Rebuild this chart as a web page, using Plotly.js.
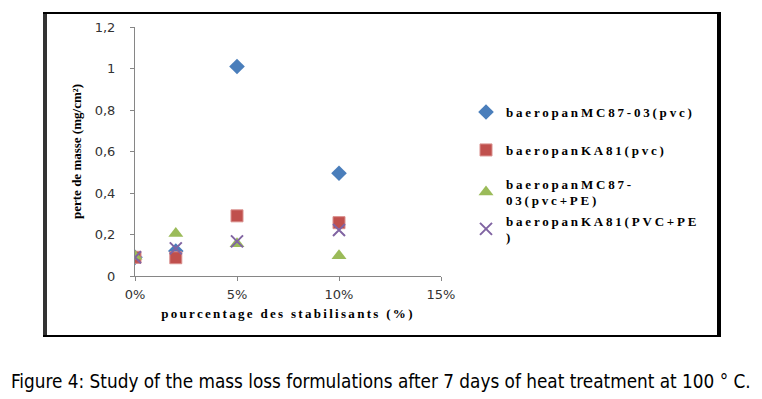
<!DOCTYPE html>
<html>
<head>
<meta charset="utf-8">
<script src="https://cdn.plot.ly/plotly-3.0.1.min.js"></script>
<style>
  html, body { margin: 0; padding: 0; background: #fff; }
  #chart { width: 762px; height: 399px; }
  .xtitle { letter-spacing: 2.3px; }
</style>
</head>
<body>
<div id="chart"></div>
<script>
// ---- data ----
var stabilisants = [0, 0.02, 0.05, 0.10];
var mc87Pvc   = [0.09, 0.12, 1.01, 0.495];
var ka81Pvc   = [0.09, 0.088, 0.29, 0.257];
var mc87PvcPe = [0.095, 0.205, 0.156, 0.098];
var ka81PvcPe = [0.09, 0.133, 0.167, 0.222];
var seriesNames = [
  'baeropanMC87-03(pvc)',
  'baeropanKA81(pvc)',
  'baeropanMC87-<br>03(pvc+PE)',
  'baeropanKA81(PVC+PE<br>)'
];
var xTickVals = [0, 0.05, 0.10, 0.15];
var yTickVals = [0, 0.2, 0.4, 0.6, 0.8, 1.0, 1.2];
var xTitle = 'pourcentage des stabilisants (%)';
var yTitle = 'perte de masse (mg/cm²)';
var caption = 'Figure 4: Study of the mass loss formulations after 7 days of heat treatment at 100 ° C.';

// ---- layout geometry (pixels) ----
var W = 762, H = 399;
var L = 135, R = 441, T = 27, B = 276;
var pw = R - L, ph = B - T;
function px(x) { return (x - L) / pw; }
function py(y) { return (B - y) / ph; }

var serif = 'Liberation Serif, Times New Roman, serif';

var traces = [
  { x: stabilisants, y: mc87Pvc, name: seriesNames[0], type: 'scatter', mode: 'markers',
    marker: { symbol: 'diamond', size: 12, color: '#4A7EBB', line: { color: '#4A7EBB', width: 0 } },
    legend: 'legend' },
  { x: stabilisants, y: ka81Pvc, name: seriesNames[1], type: 'scatter', mode: 'markers',
    marker: { symbol: 'square', size: 12, color: '#C0504D', line: { color: '#D98F8D', width: 1 } },
    legend: 'legend2' },
  { x: stabilisants, y: mc87PvcPe, name: seriesNames[2], type: 'scatter', mode: 'markers',
    marker: { symbol: 'triangle-up', size: 13, color: '#9BBB59', line: { color: '#9BBB59', width: 0 } },
    legend: 'legend3' },
  { x: stabilisants, y: ka81PvcPe, name: seriesNames[3], type: 'scatter', mode: 'markers',
    marker: { symbol: 'x-thin-open', size: 12, color: '#8064A2', line: { color: '#8064A2', width: 2 } },
    legend: 'legend4' }
];

function leg(yc) {
  return { x: px(466), xanchor: 'left', y: py(yc), yanchor: 'middle',
           bgcolor: 'rgba(0,0,0,0)', borderwidth: 0,
           font: { family: serif, size: 13, color: '#000', weight: 'bold' } };
}

var frameColor = '#000';
var layout = {
  width: W, height: H,
  margin: { l: L, r: W - R, t: T, b: H - B, pad: 0 },
  paper_bgcolor: '#fff', plot_bgcolor: '#fff',
  separators: ', ',
  showlegend: true,
  legend: leg(112),
  legend2: leg(150),
  legend3: leg(192),
  legend4: leg(229),
  xaxis: {
    range: [0, 0.15], tickvals: xTickVals, tickformat: '.0%',
    showgrid: false, zeroline: false, showline: true, linecolor: '#868686', linewidth: 1,
    ticks: 'outside', ticklen: 4, tickcolor: '#868686',
    ticklabelstandoff: 2,
    tickfont: { family: 'DejaVu Sans, sans-serif', size: 13, color: '#333' },
    title: { text: xTitle, standoff: 8, font: { family: serif, size: 13, color: '#000', weight: 'bold' } }
  },
  yaxis: {
    range: [0, 1.2], tickvals: yTickVals,
    showgrid: false, zeroline: false, showline: true, linecolor: '#868686', linewidth: 1,
    ticks: 'outside', ticklen: 4, tickcolor: '#868686',
    ticklabelstandoff: 12,
    tickfont: { family: 'DejaVu Sans, sans-serif', size: 13, color: '#333' },
    title: { text: yTitle, standoff: 10, font: { family: serif, size: 13, color: '#000', weight: 'bold' } }
  },
  shapes: [
    { type: 'line', xref: 'paper', yref: 'paper', x0: px(45), x1: px(45), y0: py(12), y1: py(337),
      line: { color: '#333', width: 4 } },
    { type: 'line', xref: 'paper', yref: 'paper', x0: px(719), x1: px(719), y0: py(12), y1: py(337),
      line: { color: frameColor, width: 4 } },
    { type: 'line', xref: 'paper', yref: 'paper', x0: px(43), x1: px(721), y0: py(13), y1: py(13),
      line: { color: frameColor, width: 2 } },
    { type: 'line', xref: 'paper', yref: 'paper', x0: px(43), x1: px(721), y0: py(336), y1: py(336),
      line: { color: frameColor, width: 2 } }
  ],
  annotations: [
    { text: caption, xref: 'paper', yref: 'paper', x: px(381), y: py(381),
      xanchor: 'center', yanchor: 'middle', showarrow: false,
      font: { family: 'DejaVu Sans Condensed, DejaVu Sans, sans-serif', size: 18.8, color: '#000' } }
  ]
};

function isLegendText(t) {
  var c = t.getAttribute('class') || '';
  var s = t.textContent || '';
  return c.indexOf('legend') >= 0 || s.indexOf('baeropan') === 0 || s.indexOf('03(pvc') === 0 || s === ')';
}

function spaceLegend() {
  var all = document.querySelectorAll('#chart text');
  for (var i = 0; i < all.length; i++) {
    var t = all[i];
    if (!isLegendText(t)) continue;
    t.style.setProperty('letter-spacing', '2.8px', 'important');
    var ts = t.querySelectorAll('tspan');
    for (var j = 0; j < ts.length; j++) ts[j].style.setProperty('letter-spacing', '2.8px', 'important');
  }
  // legend boxes were sized before the spacing; let the text show in full
  var clipped = document.querySelectorAll('#chart .infolayer [clip-path]');
  for (var k = 0; k < clipped.length; k++) clipped[k].removeAttribute('clip-path');
}

Plotly.newPlot('chart', traces, layout, { displayModeBar: false, staticPlot: true }).then(function () {
  spaceLegend();
  setTimeout(spaceLegend, 30);
  setTimeout(spaceLegend, 200);
});
</script>
</body>
</html>
